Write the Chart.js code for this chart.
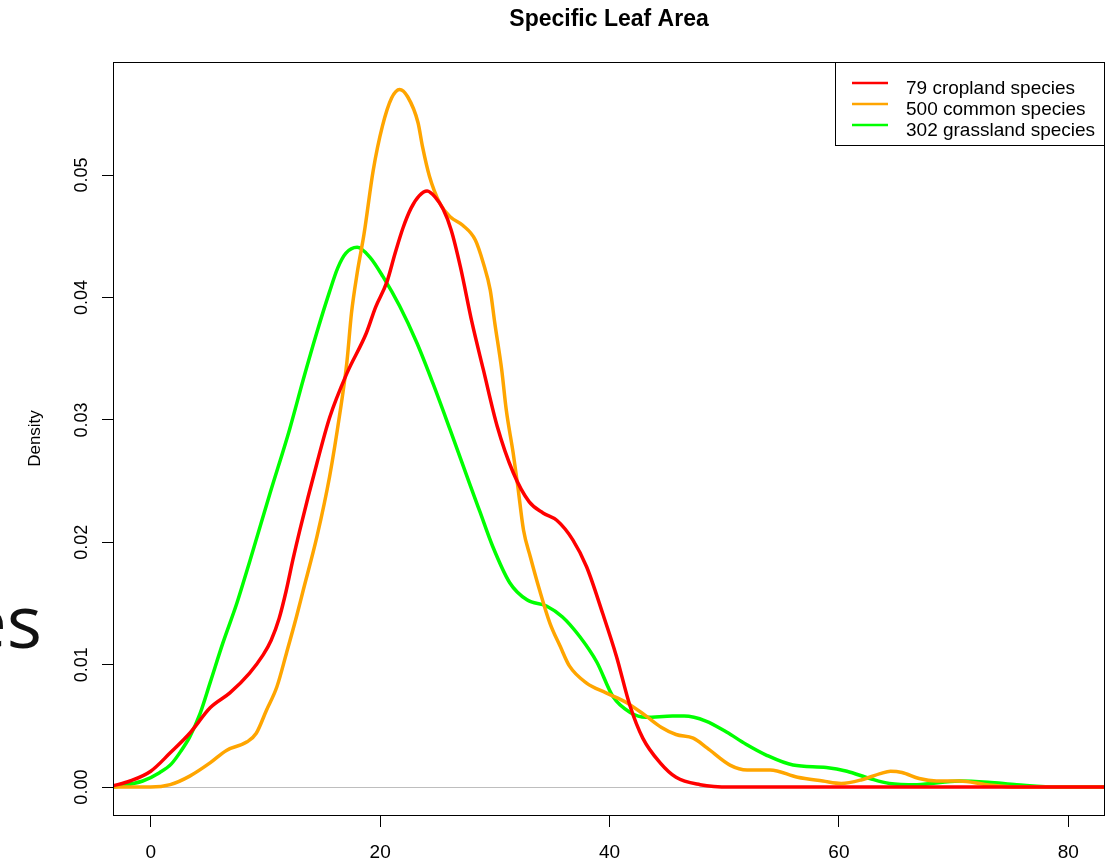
<!DOCTYPE html>
<html>
<head>
<meta charset="utf-8">
<title>Specific Leaf Area</title>
<script src="https://cdn.jsdelivr.net/npm/chart.js@4/dist/chart.umd.min.js"></script>
<style>
  html, body { margin: 0; padding: 0; background: #ffffff; }
  #wrap { position: relative; width: 1120px; height: 862px; overflow: hidden; }
  canvas { display: block; }
</style>
</head>
<body>
<div id="wrap"><canvas id="c" width="1120" height="862"></canvas></div>
<script>
// ---- text ----
const chartTitle = 'Specific Leaf Area';
const yAxisTitle = 'Density';
const sideText = 'es';
const seriesLabels = ['79 cropland species', '500 common species', '302 grassland species'];
const seriesColors = ['#FF0000', '#FFA500', '#00FF00'];

// ---- kernel density estimates (SLA value, density) ----
const croplandX = [-3.3, -1.8, 0, 1.7, 3.4, 5.2, 6.9, 8.6, 9.8, 10.5, 11.2, 11.8, 12.4, 13.0, 14.5, 15.6, 17.1, 18.8, 19.6, 20.6, 21.3, 22.0, 22.7, 23.4, 24.1, 24.8, 25.5, 26.2, 27.0, 28.0, 29.0, 30.2, 31.6, 33.0, 34.2, 35.4, 36.8, 38.0, 39.4, 40.6, 41.8, 42.9, 44.4, 45.8, 47.9, 50.5, 83.2];
const croplandY = [0.0001, 0.0005, 0.0013, 0.0028, 0.0044, 0.0065, 0.0077, 0.0093, 0.0108, 0.0120, 0.0138, 0.0160, 0.0186, 0.0210, 0.0265, 0.0302, 0.0338, 0.0371, 0.0392, 0.0413, 0.0436, 0.0457, 0.0473, 0.0483, 0.0487, 0.0482, 0.0472, 0.0455, 0.0425, 0.0380, 0.0341, 0.0295, 0.0257, 0.0233, 0.0224, 0.0218, 0.0202, 0.0180, 0.0142, 0.0107, 0.0066, 0.0040, 0.0020, 0.0008, 0.0002, 0.0000, 0.0000];

const commonX = [-3.3, 0, 1.7, 3.4, 5.2, 6.6, 8.4, 9.2, 10.1, 11.0, 11.85, 12.7, 13.3, 14.5, 15.6, 16.5, 17.1, 17.5, 18.0, 18.6, 19.4, 20.2, 21.0, 21.7, 22.4, 23.3, 23.7, 24.3, 25.2, 26.1, 27.2, 28.3, 29.0, 29.6, 30.0, 30.6, 31.0, 31.6, 32.0, 32.5, 33.1, 33.9, 34.8, 35.7, 36.5, 38.0, 39.7, 41.5, 43.2, 44.5, 45.8, 47.3, 48.5, 50.5, 52.0, 54.0, 56.4, 58.6, 60.2, 62.0, 63.6, 64.5, 65.5, 67.0, 68.5, 70.5, 72.9, 75.5, 83.2];
const commonY = [0.0000, 0.0000, 0.0002, 0.0009, 0.0020, 0.0030, 0.0037, 0.0044, 0.0063, 0.0082, 0.0110, 0.0139, 0.0161, 0.0205, 0.0254, 0.0306, 0.0347, 0.0387, 0.0420, 0.0452, 0.0504, 0.0540, 0.0563, 0.0570, 0.0564, 0.0543, 0.0523, 0.0499, 0.0477, 0.0466, 0.0459, 0.0447, 0.0428, 0.0406, 0.0379, 0.0341, 0.0308, 0.0273, 0.0246, 0.0210, 0.0188, 0.0161, 0.0134, 0.0115, 0.0099, 0.0085, 0.0077, 0.0069, 0.0058, 0.0049, 0.0043, 0.0040, 0.0032, 0.0018, 0.0014, 0.0014, 0.0008, 0.0005, 0.0003, 0.0006, 0.0011, 0.0013, 0.0012, 0.0007, 0.0005, 0.0005, 0.0002, 0.0000, 0.0000];

const grasslandX = [-3.3, -0.7, 0.8, 1.8, 2.6, 3.4, 4.3, 5.2, 6.3, 7.5, 8.65, 10.4, 12.1, 13.3, 14.5, 15.6, 16.3, 17.0, 18.0, 19.1, 20.25, 21.7, 23.2, 24.6, 26.1, 27.8, 28.7, 29.8, 31.3, 32.8, 34.5, 35.9, 37.4, 38.9, 40.3, 41.8, 43.2, 45.5, 46.5, 48.4, 50.2, 51.9, 53.7, 56.0, 58.9, 60.7, 62.7, 64.4, 66.8, 70.5, 73.0, 75.5, 79.2, 83.2];
const grasslandY = [0.0000, 0.0005, 0.0012, 0.0019, 0.0029, 0.0041, 0.0060, 0.0086, 0.0118, 0.0150, 0.0185, 0.0240, 0.0292, 0.0333, 0.0372, 0.0405, 0.0424, 0.0436, 0.0441, 0.0433, 0.0417, 0.0393, 0.0363, 0.0330, 0.0292, 0.0248, 0.0225, 0.0197, 0.0167, 0.0153, 0.0148, 0.0139, 0.0123, 0.0102, 0.0074, 0.0061, 0.0057, 0.0058, 0.0058, 0.0054, 0.0045, 0.0035, 0.0026, 0.0018, 0.0016, 0.0013, 0.0007, 0.0003, 0.0002, 0.0005, 0.0004, 0.0002, 0.0000, 0.0000];

// ---- axes ----
const xTicks = [0, 20, 40, 60, 80];
const xTickLabels = ['0', '20', '40', '60', '80'];
const yTicks = [0, 0.01, 0.02, 0.03, 0.04, 0.05];
const yTickLabels = ['0.00', '0.01', '0.02', '0.03', '0.04', '0.05'];
const xRange = [-3.29, 83.2];
const yRange = [-0.002278, 0.059238];

const FONT = '"Liberation Sans", Arial, Helvetica, sans-serif';

function toPoints(xs, ys) {
  return xs.map((x, i) => ({ x: x, y: ys[i] }));
}

const seriesData = [
  toPoints(croplandX, croplandY),
  toPoints(commonX, commonY),
  toPoints(grasslandX, grasslandY)
];

// Frame, rotated y labels, title, legend box and the side caption
const decorPlugin = {
  id: 'decor',
  afterDraw(chart) {
    const ctx = chart.ctx;
    const a = chart.chartArea;
    const ys = chart.scales.y;
    ctx.save();

    // plot frame
    ctx.strokeStyle = '#000';
    ctx.lineWidth = 1;
    ctx.strokeRect(Math.round(a.left) + 0.5, Math.round(a.top) + 0.5,
                   Math.round(a.right - a.left) - 1, Math.round(a.bottom - a.top));

    // y tick labels, reading upward
    ctx.fillStyle = '#000';
    ctx.font = '18px ' + FONT;
    ctx.textAlign = 'center';
    ctx.textBaseline = 'alphabetic';
    yTicks.forEach((v, i) => {
      const py = ys.getPixelForValue(v);
      ctx.save();
      ctx.translate(87, py);
      ctx.rotate(-Math.PI / 2);
      ctx.fillText(yTickLabels[i], 0, 0);
      ctx.restore();
    });

    // title centred over the plot
    ctx.font = 'bold 23px ' + FONT;
    ctx.textAlign = 'center';
    ctx.fillText(chartTitle, (a.left + a.right) / 2, 26);

    // legend in the top-right corner
    const lx = 835.5, ly = 62.5, lw = Math.round(a.right) - 836, lh = 83;
    ctx.fillStyle = '#fff';
    ctx.fillRect(lx, ly, lw, lh);
    ctx.strokeStyle = '#000';
    ctx.lineWidth = 1;
    ctx.strokeRect(lx, ly, lw, lh);
    ctx.font = '19px ' + FONT;
    ctx.textAlign = 'left';
    chart.data.datasets.forEach((ds, i) => {
      const rowY = 83 + i * 21;
      ctx.strokeStyle = ds.borderColor;
      ctx.lineWidth = 2.5;
      ctx.beginPath();
      ctx.moveTo(852, rowY);
      ctx.lineTo(888, rowY);
      ctx.stroke();
      ctx.fillStyle = '#000';
      ctx.fillText(ds.label, 906, rowY + 10.5);
    });

    // large caption at the left margin
    ctx.font = '400 74px "Open Sans", sans-serif';
    ctx.fillStyle = '#111';
    ctx.textAlign = 'right';
    ctx.fillText(sideText, 42, 648);

    ctx.restore();
  }
};

new Chart(document.getElementById('c'), {
  type: 'line',
  data: {
    datasets: seriesLabels.map((label, i) => ({
      label: label,
      data: seriesData[i],
      borderColor: seriesColors[i],
      backgroundColor: seriesColors[i],
      borderWidth: 3.5,
      pointRadius: 0,
      pointHoverRadius: 0,
      fill: false,
      cubicInterpolationMode: 'monotone'
    }))
  },
  options: {
    responsive: false,
    animation: false,
    devicePixelRatio: 1,
    events: [],
    layout: { padding: { left: 0, top: 62, right: 15, bottom: 0 } },
    plugins: {
      legend: { display: false },
      title: { display: false },
      tooltip: { enabled: false }
    },
    scales: {
      x: {
        type: 'linear',
        min: xRange[0],
        max: xRange[1],
        afterBuildTicks: (s) => { s.ticks = xTicks.map(v => ({ value: v })); },
        afterFit: (s) => { s.height = 47; },
        border: { display: false },
        grid: {
          drawOnChartArea: false,
          drawTicks: true,
          tickLength: 12,
          color: '#000',
          lineWidth: 1
        },
        ticks: {
          color: '#000',
          font: { family: FONT, size: 19 },
          padding: 14,
          maxRotation: 0,
          minRotation: 0,
          callback: (v) => xTickLabels[xTicks.indexOf(v)]
        }
      },
      y: {
        type: 'linear',
        min: yRange[0],
        max: yRange[1],
        afterBuildTicks: (s) => { s.ticks = yTicks.map(v => ({ value: v })); },
        afterFit: (s) => { s.width = 113; },
        border: { display: false },
        grid: {
          drawOnChartArea: true,
          drawTicks: true,
          tickLength: 11,
          lineWidth: 1,
          color: (c) => (c.tick && c.tick.value === 0) ? '#BEBEBE' : 'rgba(0,0,0,0)',
          tickColor: '#000'
        },
        ticks: { display: false },
        title: {
          display: true,
          text: yAxisTitle,
          color: '#000',
          font: { family: FONT, size: 17 },
          padding: { top: 25, bottom: 0 }
        }
      }
    }
  },
  plugins: [decorPlugin]
});
</script>
</body>
</html>
